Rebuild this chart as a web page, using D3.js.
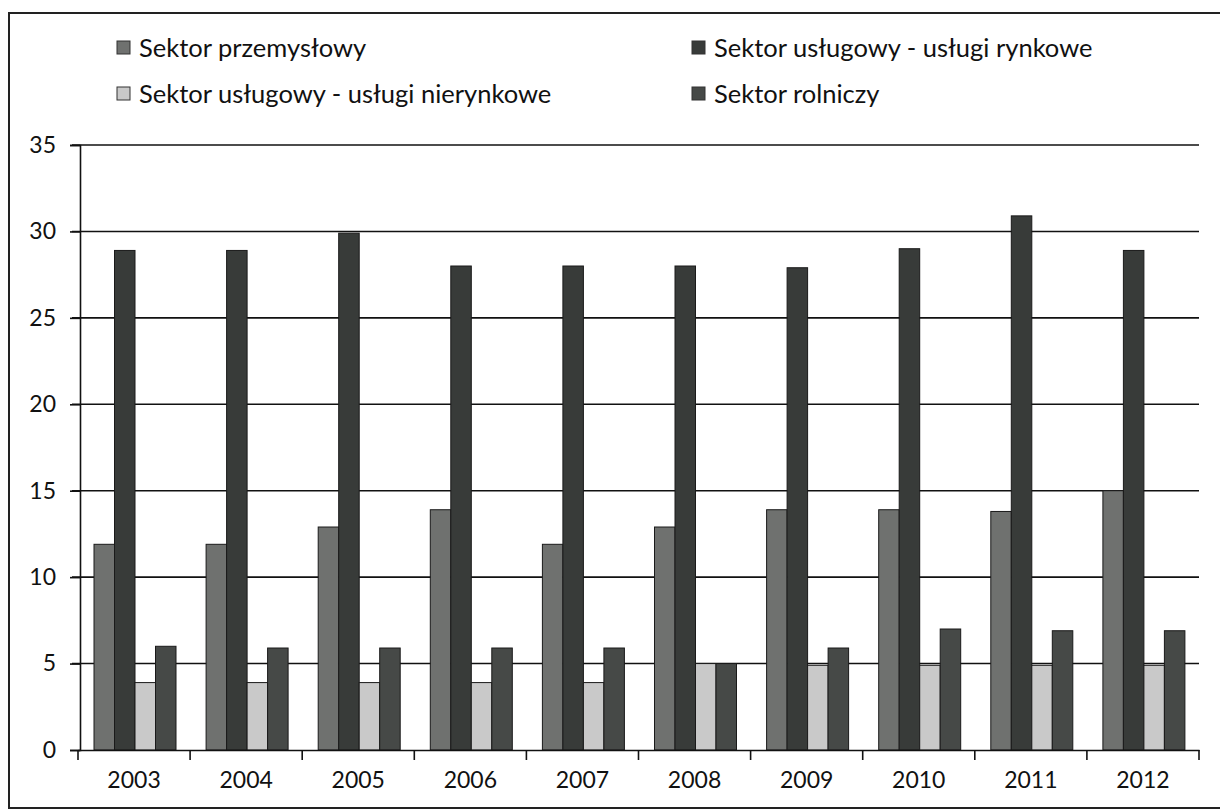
<!DOCTYPE html>
<html>
<head>
<meta charset="utf-8">
<script src="https://cdn.jsdelivr.net/npm/d3@7"></script>
<style>
  body { margin: 0; background: #fff; }
  svg text { font-family: Lato, "Open Sans", sans-serif; fill: #111; }
</style>
</head>
<body>
<div id="chart"></div>
<script>
var width = 1220, height = 812;

// data
var years = ["2003", "2004", "2005", "2006", "2007", "2008", "2009", "2010", "2011", "2012"];
var seriesNames = ["Sektor przemysłowy", "Sektor usługowy - usługi rynkowe",
                   "Sektor usługowy - usługi nierynkowe", "Sektor rolniczy"];
var przemyslowy = [11.9, 11.9, 12.9, 13.9, 11.9, 12.9, 13.9, 13.9, 13.8, 15.0];
var rynkowe     = [28.9, 28.9, 29.9, 28.0, 28.0, 28.0, 27.9, 29.0, 30.9, 28.9];
var nierynkowe  = [3.9, 3.9, 3.9, 3.9, 3.9, 5.0, 4.9, 4.9, 4.9, 4.9];
var rolniczy    = [6.0, 5.9, 5.9, 5.9, 5.9, 5.0, 5.9, 7.0, 6.9, 6.9];
var yTicks = [0, 5, 10, 15, 20, 25, 30, 35];

var values = [przemyslowy, rynkowe, nierynkowe, rolniczy];
var colors = ["#6f716f", "#383b39", "#c9c9c9", "#464947"];

var svg = d3.select("#chart").append("svg")
    .attr("width", width)
    .attr("height", height);

// frame of the scanned figure
svg.append("rect")
    .attr("x", 9).attr("y", 13)
    .attr("width", 1240).attr("height", 795)
    .attr("fill", "none")
    .attr("stroke", "#222")
    .attr("stroke-width", 2);

var x0 = d3.scaleBand()
    .domain(years)
    .range([78, 1199]);

var x1 = d3.scaleBand()
    .domain(d3.range(4))
    .range([16, 98]);

var y = d3.scaleLinear()
    .domain([0, 35])
    .range([750, 145]);

// gridlines
svg.append("g")
    .selectAll("line")
    .data(yTicks.slice(1))
    .enter()
    .append("line")
    .attr("x1", 72).attr("x2", 1199)
    .attr("y1", d => y(d)).attr("y2", d => y(d))
    .attr("stroke", "#111")
    .attr("stroke-width", 1.6);

// bars
var groups = svg.append("g")
    .selectAll("g")
    .data(years)
    .enter()
    .append("g")
    .attr("transform", d => "translate(" + x0(d) + ",0)");

groups.selectAll("rect")
    .data((d, i) => values.map((s, k) => ({k: k, v: s[i]})))
    .enter()
    .append("rect")
    .attr("x", d => x1(d.k))
    .attr("y", d => y(d.v))
    .attr("width", x1.bandwidth())
    .attr("height", d => y(0) - y(d.v))
    .attr("fill", d => colors[d.k])
    .attr("stroke", "#1a1a1a")
    .attr("stroke-width", 1);

// y axis
var yAxis = svg.append("g")
    .attr("transform", "translate(80,0)")
    .call(d3.axisLeft(y).tickValues(yTicks).tickSize(10).tickPadding(14));
yAxis.select(".domain").attr("stroke", "#111").attr("stroke-width", 1.6);
yAxis.selectAll(".tick line").attr("stroke", "#111").attr("stroke-width", 1.6);
yAxis.selectAll(".tick text")
    .style("font-family", "Lato, sans-serif")
    .style("font-size", "23px")
    .attr("fill", "#111");

// x axis
var xAxis = svg.append("g")
    .attr("transform", "translate(0," + y(0) + ")")
    .call(d3.axisBottom(x0).tickSize(0).tickPadding(22));
xAxis.select(".domain").attr("stroke", "#111").attr("stroke-width", 1.6);
xAxis.selectAll(".tick text")
    .style("font-family", "Lato, sans-serif")
    .style("font-size", "23px")
    .attr("fill", "#111");

// tick marks between categories
svg.append("g")
    .selectAll("line")
    .data(years.concat(["end"]))
    .enter()
    .append("line")
    .attr("x1", (d, i) => x0.range()[0] + i * x0.step())
    .attr("x2", (d, i) => x0.range()[0] + i * x0.step())
    .attr("y1", y(0)).attr("y2", y(0) + 10)
    .attr("stroke", "#111")
    .attr("stroke-width", 1.6);

// legend
var legendPos = [[117, 48], [692, 48], [117, 94], [692, 94]];
var legend = svg.append("g")
    .selectAll("g")
    .data(seriesNames)
    .enter()
    .append("g")
    .attr("transform", (d, i) => "translate(" + legendPos[i][0] + "," + legendPos[i][1] + ")");

legend.append("rect")
    .attr("x", 0).attr("y", -7)
    .attr("width", 13).attr("height", 13)
    .attr("fill", (d, i) => colors[i])
    .attr("stroke", "#333")
    .attr("stroke-width", 1);

legend.append("text")
    .attr("x", 22)
    .attr("dy", "0.35em")
    .style("font-size", "25.5px")
    .text(d => d);
</script>
</body>
</html>
